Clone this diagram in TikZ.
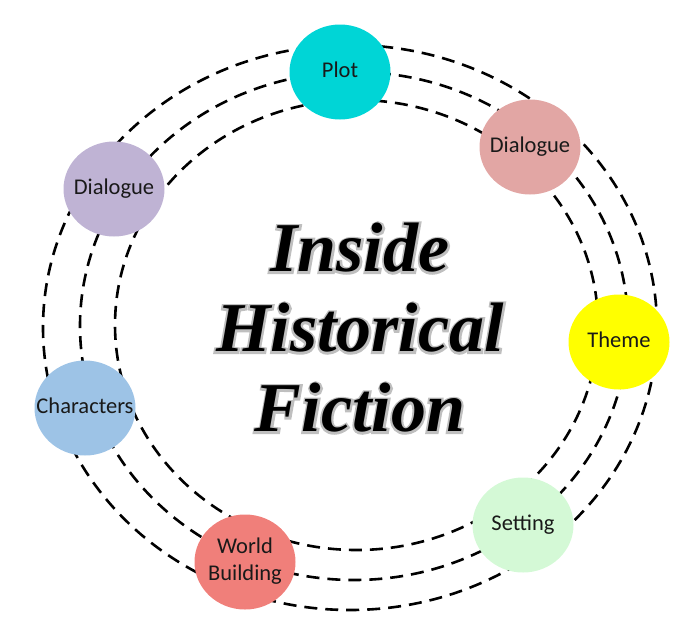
\documentclass[tikz,border=0pt]{standalone}
\usepackage{fontspec}
\setmainfont{Carlito}
\newfontfamily\titlefont[UprightFont=* Bold Italic]{Liberation Serif}
\newfontfamily\titleglowfont[UprightFont=* Bold Italic, FakeBold=6]{Liberation Serif}
\usetikzlibrary{shapes.geometric}
\definecolor{cPlot}{HTML}{00D5D6}
\definecolor{cDiaR}{HTML}{E2A6A4}
\definecolor{cTheme}{HTML}{FFFF00}
\definecolor{cSet}{HTML}{D4F9D6}
\definecolor{cWorld}{HTML}{F07F7A}
\definecolor{cChar}{HTML}{9DC3E6}
\definecolor{cDiaL}{HTML}{BFB3D4}
\newcommand{\flatlabel}[1]{\makebox[0pt]{\begin{tabular}{@{}c@{}}#1\end{tabular}}}
\tikzset{
  orbit/.style={line width=2.6pt, dash pattern=on 13pt off 8pt},
  topic/.style={ellipse, draw=none, minimum width=101pt, minimum height=95pt,
    inner sep=0pt, font=\fontsize{22.5}{27}\selectfont, text=black!90},
  titletext/.style={align=center, font=\fontsize{70}{80}\selectfont\titlefont},
  titleglow/.style={align=center, font=\fontsize{70}{80}\selectfont\titleglowfont, text=black!25}
}
\begin{document}
\begin{tikzpicture}[x=1pt,y=-1pt]
\useasboundingbox (0,0) rectangle (700,640);
% orbits
\draw[orbit] (350,327.5) ellipse [x radius=307pt, y radius=282.5pt];
\draw[orbit] (354,326) ellipse [x radius=274pt, y radius=254pt];
\draw[orbit] (356.5,325) ellipse [x radius=241.5pt, y radius=225pt];
% topics
\node[topic, fill=cPlot]  (plot)  at (340,72)  {\flatlabel{Plot}};
\node[topic, fill=cDiaR]  (diar)  at (530,147) {\flatlabel{Dialogue}};
\node[topic, fill=cTheme] (theme) at (619,342) {\flatlabel{Theme}};
\node[topic, fill=cSet]   (set)   at (523,525) {\flatlabel{Setting}};
\node[topic, fill=cWorld] (world) at (245,562) {\flatlabel{World\\Building}};
\node[topic, fill=cChar]  (char)  at (85,408)  {\flatlabel{Characters}};
\node[topic, fill=cDiaL]  (dial)  at (114,189) {\flatlabel{Dialogue}};
% title glow and title
\node[titleglow] (glow) at (360,328) {Inside\\Historical\\Fiction};
\node[titletext] (title) at (360,328) {Inside\\Historical\\Fiction};
\end{tikzpicture}
\end{document}
